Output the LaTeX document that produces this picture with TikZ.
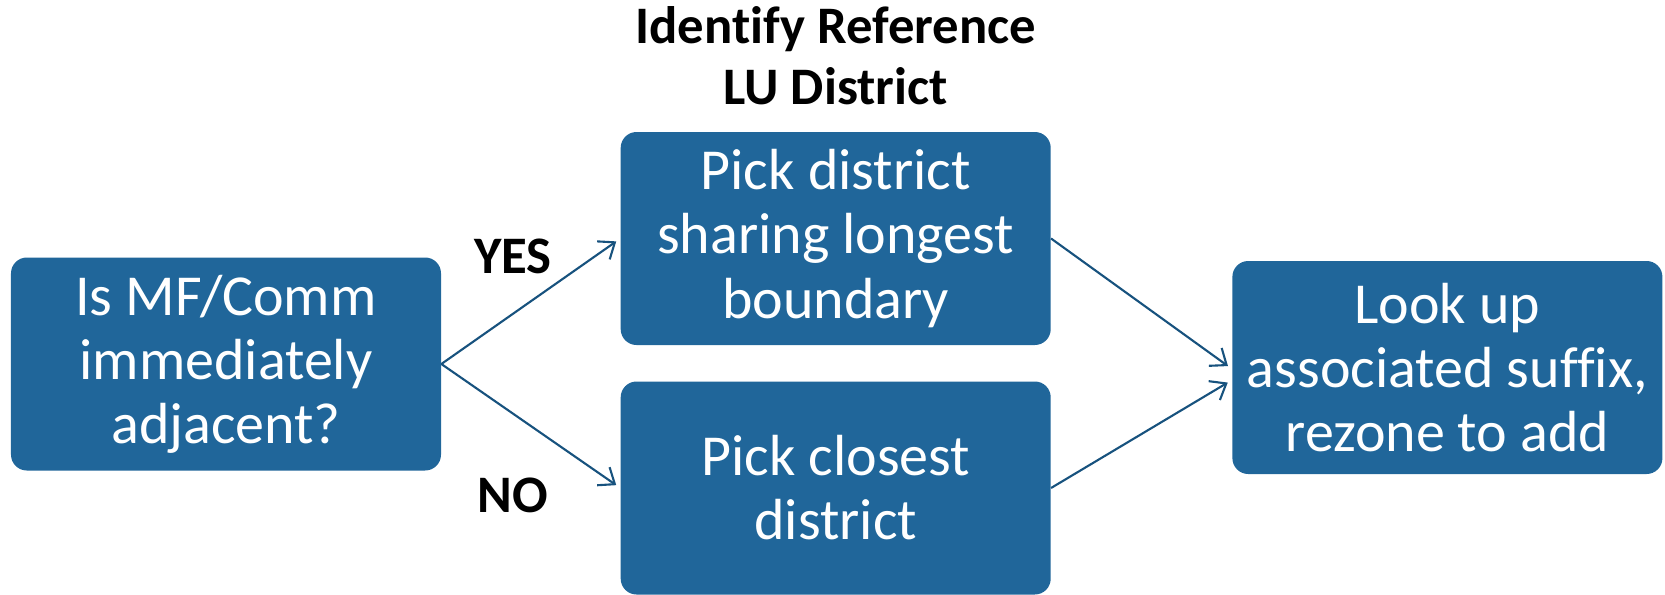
\documentclass[tikz,border=0pt]{standalone}
\usepackage{fontspec}
\setmainfont[Ligatures=NoCommon]{Carlito}
\usepackage{tikz}
\usetikzlibrary{arrows.meta,positioning}
\definecolor{stepblue}{HTML}{20669A}
\definecolor{flowline}{HTML}{17527E}
\tikzset{
  stepbox/.style={rectangle,rounded corners=9pt,fill=stepblue,text=white,
    minimum width=8.6cm,minimum height=4.26cm,align=center,
    font=\fontsize{33}{36.5}\selectfont},
  heading/.style={align=center,inner sep=0pt,font=\fontsize{30}{34.5}\selectfont\bfseries},
  answer/.style={inner sep=0pt,font=\fontsize{30}{34.5}\selectfont\bfseries},
  flow/.style={-{Straight Barb[length=2.8mm,width=4.4mm]},line width=1.2pt,draw=flowline,
    shorten >=0.1cm}
}

\begin{document}
\begin{tikzpicture}
\useasboundingbox (-4.52,-4.6) rectangle (28.78,7.28);
\node[stepbox] (ask) {Is MF/Comm\\immediately\\adjacent?};
\node[stepbox,right=3.58cm of ask,yshift=2.51cm] (longest) {Pick district\\sharing longest\\boundary};
\node[stepbox,right=3.58cm of ask,yshift=-2.48cm] (closest) {Pick closest\\district};
\node[stepbox,right=3.62cm of longest,yshift=-2.58cm] (suffix) {Look up\\associated suffix,\\rezone to add};
\node[heading,above=0.53cm of longest] (title) {Identify Reference\\LU District};
% decision branches
\draw[flow] (ask.east) -- (longest.west) node[answer,pos=0.4,above=0.77cm] {YES};
\draw[flow] (ask.east) -- (closest.west) node[answer,pos=0.4,below=1.27cm] {NO};
% both branches end in the same step
\draw[flow] (longest.east) -- ([yshift=-0.03cm]suffix.west);
\draw[flow] (closest.east) -- ([yshift=-0.25cm]suffix.west);
\end{tikzpicture}
\end{document}
